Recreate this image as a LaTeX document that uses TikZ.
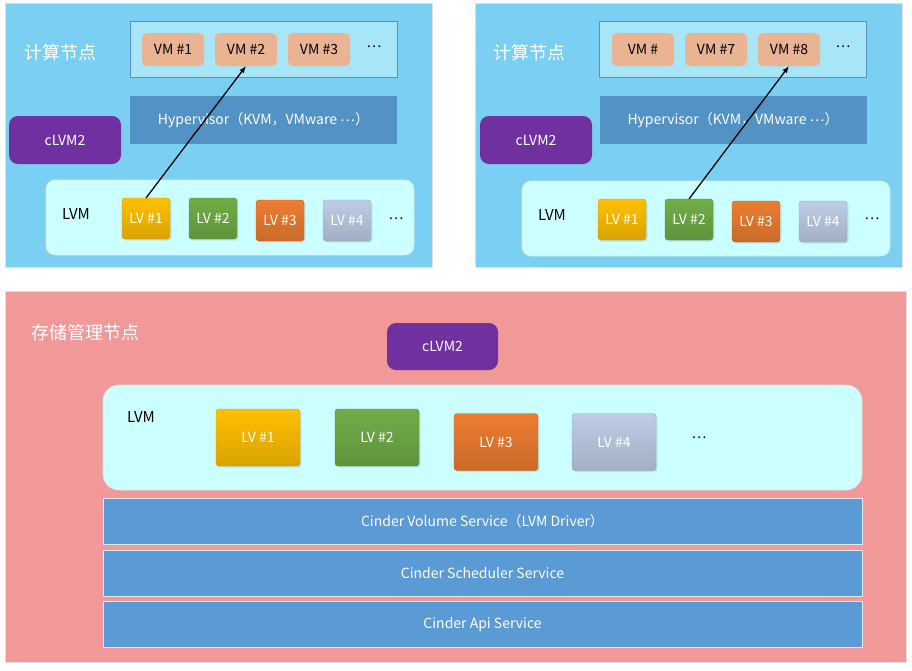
\documentclass[tikz,border=0pt]{standalone}
\usepackage{fontspec}
\setmainfont{Noto Sans CJK SC}
\usetikzlibrary{arrows.meta,shadows}

\definecolor{nodeblue}{RGB}{122,207,243}
\definecolor{vmframe}{RGB}{168,229,247}
\definecolor{vmpeach}{RGB}{234,179,146}
\definecolor{hyperblue}{RGB}{83,146,197}
\definecolor{clvmpurple}{RGB}{112,48,160}
\definecolor{lvmcyan}{RGB}{204,255,255}
\definecolor{storepink}{RGB}{241,153,152}
\definecolor{svcblue}{RGB}{91,155,213}
\definecolor{lvgold}{RGB}{255,192,0}
\definecolor{lvgreen}{RGB}{112,173,71}
\definecolor{lvorange}{RGB}{237,125,49}
\definecolor{lvgray}{RGB}{190,205,230}

\newcommand{\middots}{\raisebox{0.35ex}{…}}

\begin{document}
\begin{tikzpicture}[
	x=1pt, y=-1pt,
	line join=round,
	every node/.style={font=\fontsize{14}{16}\selectfont, inner sep=0pt, outer sep=0pt},
	panel/.style={draw=black!12, line width=0.8pt},
	title/.style={text=white, font=\fontsize{18}{21}\selectfont},
	vmbox/.style={rounded corners=5pt, fill=vmpeach, minimum width=62pt, minimum height=33pt},
	vmframe/.style={draw=hyperblue, fill=vmframe, line width=0.6pt, minimum width=267pt, minimum height=56pt},
	hyper/.style={fill=hyperblue, text=white, minimum width=267pt, minimum height=48pt},
	clvm/.style={rounded corners=9pt, fill=clvmpurple, text=white, minimum width=112pt, minimum height=48pt},
	lvm/.style={rounded corners=9pt, draw=black!10, fill=lvmcyan, line width=0.6pt},
	lvmtext/.style={font=\fontsize{15}{18}\selectfont},
	lvbox/.style={rounded corners=3pt, draw=#1!80!black, top color=#1, bottom color=#1!85!black,
		text=white, minimum width=48pt, minimum height=41pt,
		drop shadow={opacity=0.2, shadow xshift=1.5pt, shadow yshift=-1.5pt}},
	svc/.style={draw=white!80!svcblue, fill=svcblue, text=white, minimum width=759pt, minimum height=46pt},
	link/.style={-{Latex[length=7pt,width=5.5pt]}, line width=1.3pt}
	]
	
	\useasboundingbox (0,0) rectangle (912,670);
	
	% Compute node, left
	\node[panel, fill=nodeblue, minimum width=427pt, minimum height=264pt] (cna) at (218.5,135) {};
	\node[title] (cnatitle) at (60,53) {计算节点};
	\node[vmframe] (vmsa) at (263.5,49) {};
	\node[vmbox] (vma1) at (173,49.5) {VM \#1};
	\node[vmbox] (vma2) at (246,49.5) {VM \#2};
	\node[vmbox] (vma3) at (319,49.5) {VM \#3};
	\node (vmadots) at (374,48) {\middots};
	\node[hyper] (hypa) at (263.5,120) {Hypervisor（KVM，VMware \middots）};
	\node[clvm] (clvma) at (65,140) {cLVM2};
	\node[lvm, minimum width=368pt, minimum height=75pt] (lvma) at (230,217.5) {};
	\node[lvmtext] (lvmatext) at (76,214) {LVM};
	\foreach \i/\x/\y/\c in {1/146/218.5/lvgold, 2/213/218.5/lvgreen, 3/280/220.5/lvorange, 4/347/220.5/lvgray}
		\node[lvbox=\c] (lva\i) at (\x,\y) {LV \#\i};
	\node (lvadots) at (396,220) {\middots};
	
	% Compute node, right
	\node[panel, fill=nodeblue, minimum width=427pt, minimum height=264pt] (cnb) at (688.5,135) {};
	\node[title] (cnbtitle) at (529,53) {计算节点};
	\node[vmframe] (vmsb) at (733,49) {};
	\node[vmbox] (vmb1) at (643,49.5) {VM \#};
	\node[vmbox] (vmb2) at (716,49.5) {VM \#7};
	\node[vmbox] (vmb3) at (789,49.5) {VM \#8};
	\node (vmbdots) at (843,48) {\middots};
	\node[hyper] (hypb) at (733,120) {Hypervisor（KVM，VMware \middots）};
	\node[clvm] (clvmb) at (536,140) {cLVM2};
	\node[lvm, minimum width=368pt, minimum height=75pt] (lvmb) at (706,218.5) {};
	\node[lvmtext] (lvmbtext) at (552,215) {LVM};
	\foreach \i/\x/\y/\c in {1/622/219.5/lvgold, 2/689/219.5/lvgreen, 3/756/221.5/lvorange, 4/823/221.5/lvgray}
		\node[lvbox=\c] (lvb\i) at (\x,\y) {LV \#\i};
	\node (lvbdots) at (872,220) {\middots};
	
	% Storage management node
	\node[panel, fill=storepink, minimum width=901pt, minimum height=371pt] (sn) at (455.5,476.5) {};
	\node[title] (sntitle) at (85,333) {存储管理节点};
	\node[clvm, minimum width=111pt, minimum height=47pt] (clvmc) at (442.5,346.5) {cLVM2};
	\node[lvm, rounded corners=16pt, minimum width=759pt, minimum height=105pt] (lvmc) at (482.5,437.5) {};
	\node[lvmtext] (lvmctext) at (141,417) {LVM};
	\foreach \i/\x/\y/\c in {1/258/437.5/lvgold, 2/377/437.5/lvgreen, 3/496/442/lvorange, 4/614/442/lvgray}
		\node[lvbox=\c, minimum width=84pt, minimum height=57pt] (lvc\i) at (\x,\y) {LV \#\i};
	\node (lvcdots) at (699,439) {\middots};
	\node[svc] (svcvol) at (482.5,521) {Cinder Volume Service（LVM Driver）};
	\node[svc] (svcsch) at (482.5,573) {Cinder Scheduler Service};
	\node[svc] (svcapi) at (482.5,624.5) {Cinder Api Service};
	
	% LV to VM
	\draw[link] (lva1.north) -- (vma2.south);
	\draw[link] (lvb2.north) -- (vmb3.south);
	
\end{tikzpicture}
\end{document}
